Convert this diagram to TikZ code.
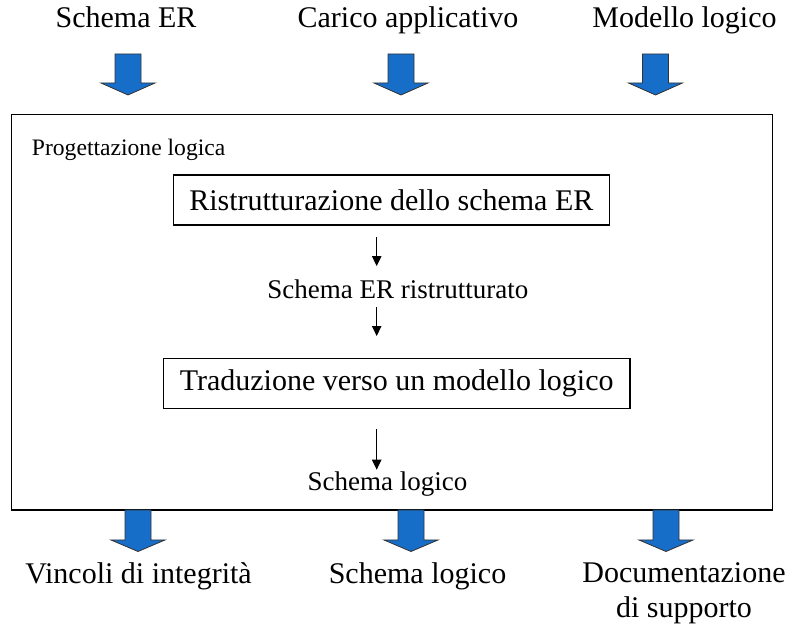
\documentclass[tikz,border=0pt]{standalone}
\usepackage{fontspec}
\setmainfont{Liberation Serif}
\usetikzlibrary{arrows.meta,positioning,calc}
\definecolor{arrowblue}{RGB}{22,110,200}
\tikzstyle{block} = [draw, line width=1pt, rectangle, inner sep=0pt, align=center, font=\fontsize{22.5pt}{27pt}\selectfont]
\tikzstyle{label} = [inner sep=0pt, anchor=base, align=center, font=\fontsize{22.5pt}{26.5pt}\selectfont]
\tikzstyle{note} = [inner sep=0pt, anchor=base, font=\fontsize{20.25pt}{24pt}\selectfont]
\tikzstyle{bigarrow} = [fill=arrowblue, draw=black!80, line width=0.6pt, line join=miter]
\tikzstyle{flow} = [-{Triangle[length=7.5pt,width=7pt]}, line width=0.9pt]

\begin{document}
\begin{tikzpicture}[x=0.75pt, y=-0.75pt]
  \useasboundingbox (0,0) rectangle (794,631);
  % Nodes
  \node [label] (lbler) at (126,28) {Schema ER};
  \node [label] (lblcarico) at (408,28) {Carico applicativo};
  \node [label] (lblmodello) at (684.5,28) {Modello logico};

  \draw [line width=1pt] (11.7,114.3) rectangle (772.3,510);
  \node [inner sep=0pt, anchor=base west, font=\fontsize{17.7pt}{21pt}\selectfont] (prog) at (31.7,156) {Progettazione logica};

  \node [block, minimum width=327pt, minimum height=37.5pt] (ris) at (391.3,200) {Ristrutturazione dello schema ER};
  \node [note] (ers) at (397.8,299) {Schema ER ristrutturato};
  \node [block, minimum width=350pt, minimum height=37.5pt] (trad) at (396.7,383.3) {Traduzione verso un modello logico};
  \node [note] (slog) at (387.5,491) {Schema logico};

  \node [label] (outvinc) at (138.5,584) {Vincoli di integrità};
  \node [label] (outschema) at (417.5,584) {Schema logico};
  \node [label, anchor=north] (outdoc) at (684,562) {Documentazione\\di supporto};

  % Path
  \coordinate (ax) at (376.7,0);
  \draw [flow, shorten <=8.8pt, shorten >=10.4pt] (ris.south -| ax) -- (ers.north -| ax);
  \draw [flow, shorten <=5.8pt, shorten >=16.2pt] (ers.south -| ax) -- (trad.north -| ax);
  \draw [flow, shorten <=15pt, shorten >=1.7pt] (trad.south -| ax) -- (slog.north -| ax);

  % Input and output arrows
  \foreach \cx in {128,401,655.5}
    \draw [bigarrow] (\cx-13,54) -- (\cx+13,54) -- (\cx+13,83) -- (\cx+27,83) -- (\cx,95) -- (\cx-27,83) -- (\cx-13,83) -- cycle;
  \foreach \cx in {138,411,666}
    \draw [bigarrow] (\cx-13,510) -- (\cx+13,510) -- (\cx+13,540) -- (\cx+27,540) -- (\cx,551.5) -- (\cx-27,540) -- (\cx-13,540) -- cycle;
\end{tikzpicture}
\end{document}
